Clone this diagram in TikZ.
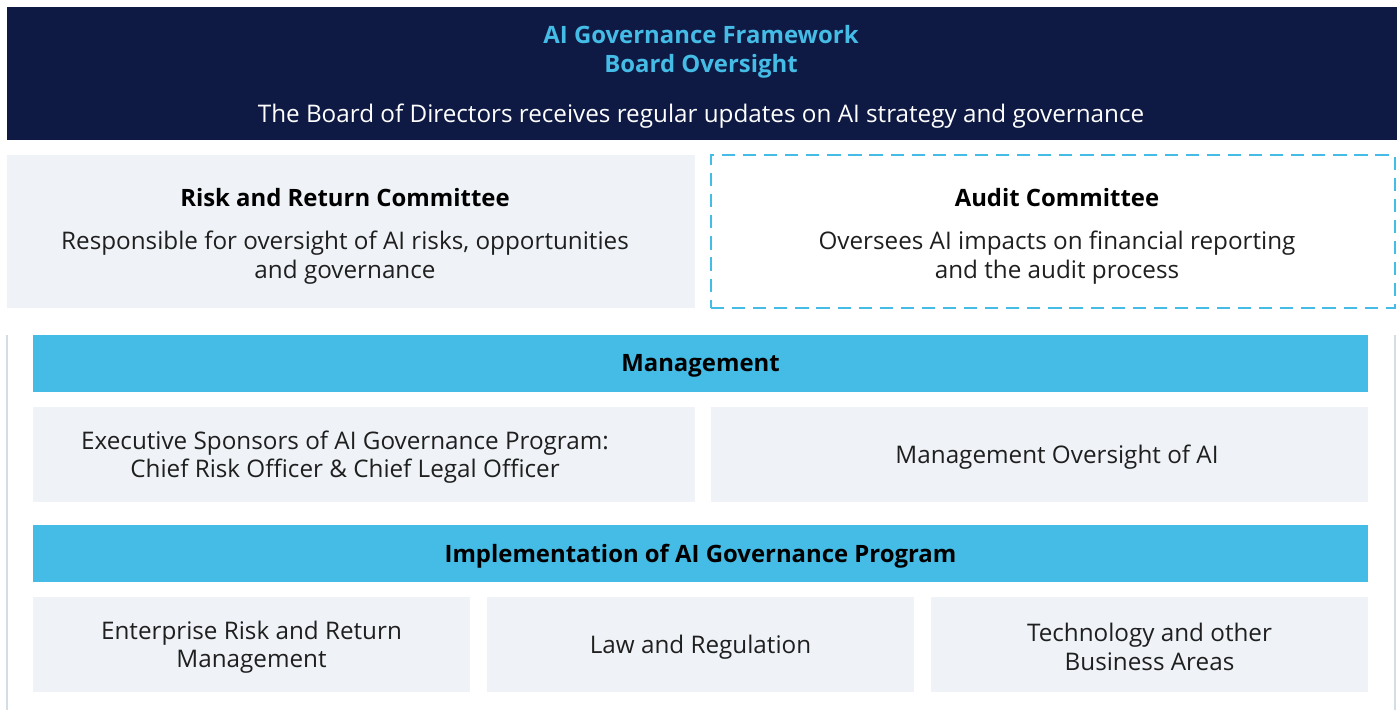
\documentclass[tikz,border=0pt]{standalone}
\usepackage{fontspec}
\setmainfont{Open Sans}
\usepackage{xcolor}
\usepackage{tikz}
\usetikzlibrary{calc,positioning}
\definecolor{boardNavy}{RGB}{14,26,68}
\definecolor{govCyan}{RGB}{68,188,230}
\definecolor{panelGrey}{RGB}{239,243,247}
\definecolor{railGrey}{RGB}{211,221,229}
\tikzset{
  panel/.style={fill=panelGrey, inner sep=0pt, outer sep=0pt},        % light grey boxes
  board/.style={fill=boardNavy, inner sep=0pt, outer sep=0pt},        % top banner
  bar/.style={fill=govCyan, inner sep=0pt, outer sep=0pt},            % section headers
  dashPanel/.style={draw=govCyan, fill=white, line width=1.1pt,
    dash pattern=on 7.5pt off 4.5pt, inner sep=0pt, outer sep=0pt},
  rail/.style={draw=railGrey, line width=1.3pt},
  bodyText/.style={font=\fontsize{13.8}{16.4}\selectfont, align=center, text=black!88, yshift=-1.5pt},
  headText/.style={font=\fontsize{13.6}{16.4}\selectfont\bfseries, align=center, text=black, yshift=-1.5pt},
  titleText/.style={font=\fontsize{13.6}{16.4}\selectfont\bfseries, align=center, text=govCyan, yshift=-1pt}
}
% box from (x1,y1) to (x2,y2) in pixel units
\newcommand{\PanelBox}[6]{%
  \node[#2, anchor=north west, minimum width={(#5-#3)*0.02cm},
    minimum height={(#6-#4)*0.02cm}] (#1) at (#3,#4) {};%
}
% text columns of the two-column rows
\newcommand{\ColL}{345}
\newcommand{\ColR}{1057}

\begin{document}
\begin{tikzpicture}[x=0.02cm, y=-0.02cm]
  \useasboundingbox (0,0) rectangle (1397,710);
  % board oversight banner
  \PanelBox{boardBox}{board}{7}{7}{1397}{140}
  \node[titleText] (boardTitle) at (701,50) {AI Governance Framework\\Board Oversight};
  \node[bodyText, text=white] (boardText) at (701,114)
    {The Board of Directors receives regular updates on AI strategy and governance};
  % committees
  \PanelBox{riskBox}{panel}{7}{155}{695}{308}
  \PanelBox{auditBox}{dashPanel}{711}{155}{1395}{308}
  \node[headText] (riskHead) at (\ColL,195) {Risk and Return Committee};
  \node[bodyText] (riskText) at (\ColL,255)
    {Responsible for oversight of AI risks, opportunities\\and governance};
  \node[headText] (auditHead) at (\ColR,195) {Audit Committee};
  \node[bodyText] (auditText) at (\ColR,255)
    {Oversees AI impacts on financial reporting\\and the audit process};
  % side rails
  \coordinate (railTL) at (7,335);
  \coordinate (railBL) at (7,710);
  \coordinate (railTR) at (1395,335);
  \coordinate (railBR) at (1395,710);
  \draw[rail] (railTL) -- (railBL);
  \draw[rail] (railTR) -- (railBR);
  % management
  \PanelBox{mgmtBar}{bar}{33}{335}{1368}{392}
  \node[headText] (mgmtHead) at (mgmtBar.center) {Management};
  \PanelBox{sponsorBox}{panel}{33}{407}{695}{502}
  \node[bodyText] (sponsorText) at (\ColL,454.5)
    {Executive Sponsors of AI Governance Program:\\Chief Risk Officer \& Chief Legal Officer};
  \PanelBox{overBox}{panel}{711}{407}{1368}{502}
  \node[bodyText] (overText) at (\ColR,454.5) {Management Oversight of AI};
  % implementation
  \PanelBox{implBar}{bar}{33}{525}{1368}{582}
  \node[headText] (implHead) at (implBar.center) {Implementation of AI Governance Program};
  \PanelBox{ermBox}{panel}{33}{597}{470}{692}
  \PanelBox{lawBox}{panel}{487}{597}{914}{692}
  \PanelBox{techBox}{panel}{931}{597}{1368}{692}
  \node[bodyText] (ermText) at (ermBox.center) {Enterprise Risk and Return\\Management};
  \node[bodyText] (lawText) at (lawBox.center) {Law and Regulation};
  \node[bodyText] (techText) at (techBox.center) {Technology and other\\Business Areas};
\end{tikzpicture}
\end{document}
